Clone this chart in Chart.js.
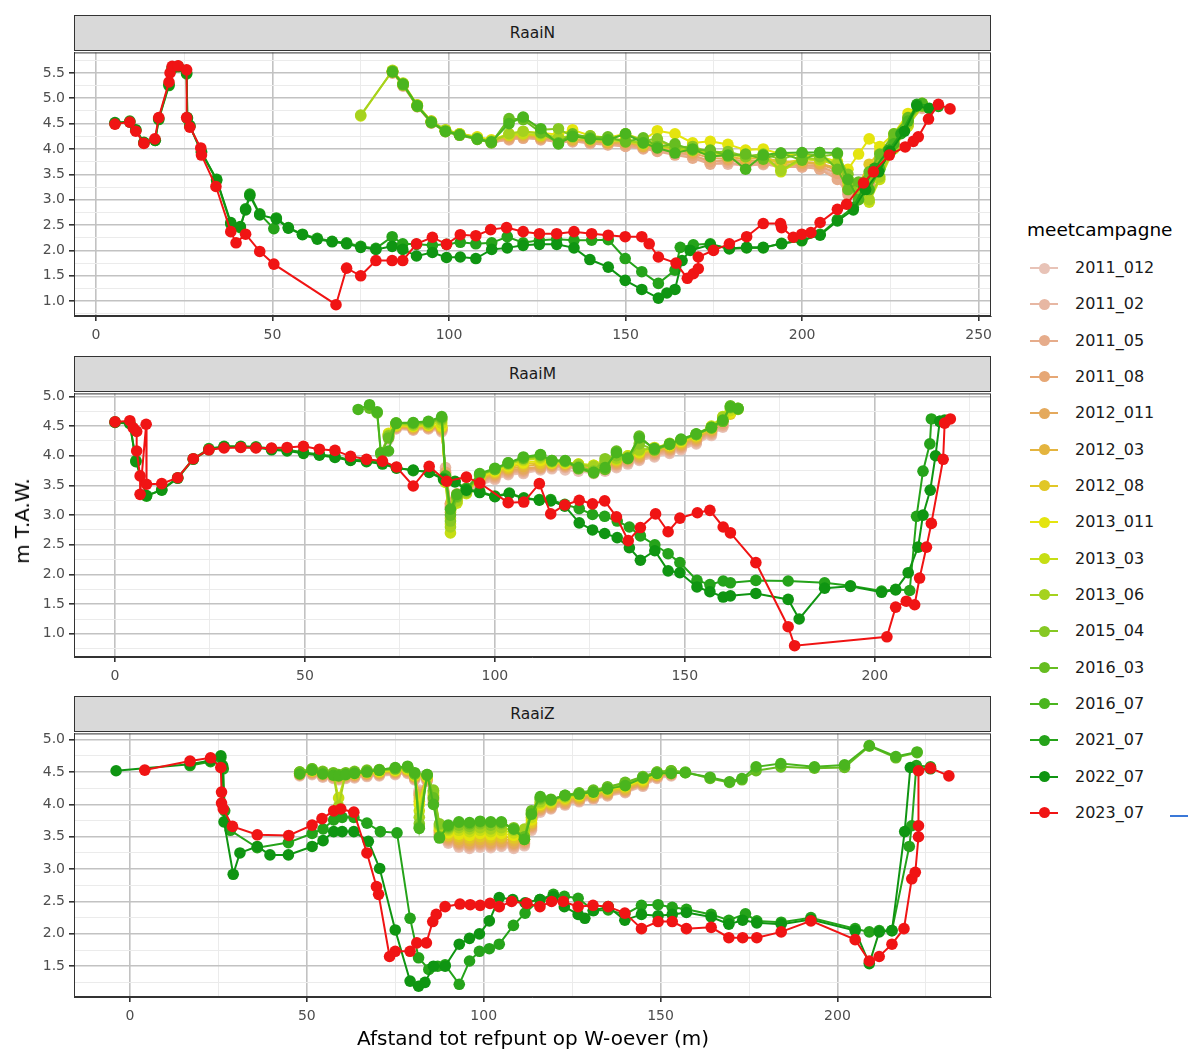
<!DOCTYPE html>
<html>
<head>
<meta charset="utf-8">
<script src="https://cdn.jsdelivr.net/npm/chart.js@4.4.1/dist/chart.umd.min.js"></script>
<style>
  html,body{margin:0;padding:0;background:#fff;}
  body{width:1188px;height:1049px;overflow:hidden;position:relative;font-family:"DejaVu Sans","Liberation Sans",Arial,sans-serif;}
  .strip{position:absolute;left:74px;width:917px;height:36px;background:#d9d9d9;border:1px solid #333;box-sizing:border-box;text-align:center;line-height:34px;font-size:15.5px;color:#1a1a1a;}
  canvas{position:absolute;left:0;}
  .ytitle{position:absolute;left:22px;top:521px;transform:translate(-50%,-50%) rotate(-90deg);font-size:20px;color:#000;white-space:nowrap;}
  .xtitle{position:absolute;left:533px;top:1038px;transform:translate(-50%,-50%);font-size:20px;color:#000;white-space:nowrap;}
  .ltitle{position:absolute;left:1027px;top:229px;transform:translateY(-50%);font-size:18.5px;color:#000;white-space:nowrap;}
  .litem{position:absolute;left:1030px;height:20px;width:150px;}
  .litem .ln{position:absolute;left:0;top:9px;width:28px;height:2px;}
  .litem .dt{position:absolute;left:8.5px;top:4.5px;width:11px;height:11px;border-radius:50%;}
  .litem .tx{position:absolute;left:45px;top:0;line-height:20px;font-size:16px;color:#1a1a1a;white-space:nowrap;}
</style>
</head>
<body>
<div class="strip" style="top:15px">RaaiN</div>
<div class="strip" style="top:356px">RaaiM</div>
<div class="strip" style="top:696px">RaaiZ</div>
<canvas id="cN" width="1000" height="316" style="top:40px"></canvas>
<canvas id="cM" width="1000" height="316" style="top:381px"></canvas>
<canvas id="cZ" width="1000" height="316" style="top:721px"></canvas>
<div class="ytitle">m T.A.W.</div>
<div class="xtitle">Afstand tot refpunt op W-oever (m)</div>
<div class="ltitle">meetcampagne</div>
<div id="legend"></div>
<div style="position:absolute;left:1170px;top:815px;width:18px;height:1.5px;background:#3a78d8"></div>
<script>
// ---------- series ----------
const seriesNames = ['2011_012','2011_02','2011_05','2011_08','2012_011','2012_03','2012_08','2013_011','2013_03','2013_06','2015_04','2016_03','2016_07','2021_07','2022_07','2023_07'];
const seriesColors = ['#E8C3B7','#E7B7A3','#E6AC8B','#E6A775','#E4A95C','#E4B43E','#E1C726','#E4E40E','#C6DE14','#A5D21E','#86C823','#66BD20','#4AB51E','#25A31A','#0F9512','#F01414'];

// ---------- tick labels ----------
const N_xTicks = [0,50,100,150,200,250];
const N_yTicks = [1.0,1.5,2.0,2.5,3.0,3.5,4.0,4.5,5.0,5.5];
const M_xTicks = [0,50,100,150,200];
const M_yTicks = [1.0,1.5,2.0,2.5,3.0,3.5,4.0,4.5,5.0];
const Z_xTicks = [0,50,100,150,200];
const Z_yTicks = [1.5,2.0,2.5,3.0,3.5,4.0,4.5,5.0];

// ---------- RaaiN ----------
const N_oldX = [75,84,87,91,95,99,103,108,112,117,121,126,131,135,140,145,150,155,159,164,169,174,179,184,189,194,200,205,210,213,216,219,222,226,230,234];
const N_2011_012 = [null,5.50,5.25,4.83,4.52,4.36,4.27,4.19,4.13,4.18,4.22,4.20,4.14,4.16,4.12,4.10,4.08,4.02,3.98,3.92,3.86,3.78,3.72,3.70,3.69,3.68,3.66,3.64,3.50,3.20,3.02,3.30,3.72,4.12,4.52,4.82];
const N_2011_02  = [null,5.51,5.24,4.84,4.51,4.35,4.28,4.20,4.12,4.20,4.24,4.18,4.15,4.14,4.13,4.09,4.06,4.00,3.96,3.90,3.84,3.72,3.70,3.68,3.70,3.66,3.64,3.62,3.45,3.15,3.00,3.28,3.70,4.10,4.50,4.80];
const N_2011_05  = [null,5.52,5.26,4.85,4.53,4.34,4.27,4.21,4.13,4.19,4.21,4.19,4.13,4.15,4.11,4.08,4.05,4.01,3.95,3.88,3.82,3.70,3.74,3.66,3.71,3.64,3.65,3.60,3.40,3.10,3.05,3.25,3.68,4.08,4.48,4.83];
const N_2011_08  = [null,5.50,5.27,4.86,4.54,4.36,4.29,4.22,4.15,4.21,4.23,4.21,4.16,4.17,4.14,4.11,4.09,4.03,3.99,3.93,3.88,3.75,3.78,3.72,3.74,3.70,3.68,3.66,3.52,3.18,3.04,3.32,3.74,4.14,4.54,4.86];
const N_2012_011 = [null,5.52,5.28,4.84,4.55,4.37,4.30,4.23,4.16,4.24,4.26,4.22,4.18,4.19,4.16,4.13,4.12,4.06,4.02,3.97,3.92,3.82,3.80,3.76,3.78,3.74,3.72,3.70,3.58,3.22,3.08,3.36,3.78,4.18,4.56,4.88];
const N_2012_03  = [null,5.51,5.26,4.85,4.52,4.36,4.28,4.21,4.15,4.26,4.28,4.24,4.20,4.18,4.17,4.12,4.14,4.05,4.08,3.98,3.95,3.88,3.84,3.80,3.82,3.76,3.75,3.72,3.62,3.28,3.12,3.45,3.82,4.20,4.58,4.87];
const N_2012_08  = [null,5.53,5.27,4.86,4.53,4.37,4.29,4.22,4.16,4.27,4.30,4.26,4.22,4.25,4.20,4.16,4.20,4.10,4.15,4.06,4.00,3.96,3.92,3.84,3.86,3.70,3.80,3.78,3.68,3.40,3.30,3.70,3.95,4.25,4.62,4.88];
const N_2013_011 = [null,5.53,5.28,4.86,4.54,4.37,4.30,4.24,4.18,4.30,4.34,4.32,4.28,4.38,4.26,4.22,4.30,4.18,4.36,4.30,4.12,4.15,4.09,3.98,4.00,3.90,3.88,3.85,3.75,3.60,3.90,4.20,4.05,4.30,4.70,4.90];
const N_2013_03  = [4.65,5.55,5.30,4.87,4.55,4.38,4.30,4.22,4.16,4.28,4.30,4.27,4.20,4.24,4.20,4.17,4.15,4.10,4.06,4.00,3.97,3.92,3.88,3.85,3.86,3.55,3.80,3.78,3.70,3.35,3.10,2.95,3.40,4.00,4.45,4.85];
const N_2013_06  = [4.67,5.54,5.29,4.86,4.54,4.37,4.29,4.21,4.15,4.30,4.35,4.30,4.22,4.26,4.22,4.18,4.16,4.12,4.07,4.02,3.99,3.94,3.90,3.86,3.87,3.58,3.82,3.80,3.72,3.40,3.15,3.00,3.45,4.05,4.50,4.86];
const N_2015_04  = [null,5.52,5.26,4.84,4.53,4.35,4.28,4.20,4.13,4.55,4.62,4.38,4.40,4.24,4.26,4.18,4.30,4.16,4.20,4.03,4.05,3.93,3.95,3.85,3.90,3.80,3.92,3.85,3.90,3.50,3.10,3.40,3.80,4.20,4.60,4.88];
const N_2016_03  = [null,5.53,5.27,4.85,4.52,4.34,4.27,4.19,4.12,4.60,4.58,4.32,4.12,4.30,4.22,4.24,4.14,4.22,4.05,4.10,3.98,3.98,3.86,3.90,3.80,3.92,3.78,3.93,3.60,3.20,3.35,3.55,3.90,4.30,4.62,4.85];
const N_2016_07  = [null,5.52,5.28,4.85,4.53,4.35,4.28,4.20,4.14,4.50,4.63,4.40,4.10,4.25,4.20,4.18,4.30,4.12,4.02,3.92,4.00,3.85,3.88,3.60,3.88,3.92,3.93,3.93,3.92,3.40,3.00,3.20,3.60,4.10,4.55,4.90];
const N_2021_07_x = [5.4,9.6,11.3,13.6,16.8,17.8,20.7,21.6,23.3,25.7,25.9,26.6,29.9,34.2,38.2,40.9,42.4,43.6,46.4,50.4,51.1,54.5,58.5,62.7,66.9,71.0,75.0,79.3,83.9,86.9,90.8,95.3,99.3,103.2,107.6,112.1,116.5,121.0,125.6,130.5,135.4,140.4,145.1,149.9,154.6,159.3,164.0,165.5,169.2,174.0,179.4,184.3,189.0,194.2,199.9,205.1,210.0,214.5,217.5,220.5,224.6,228.0,232.5,238.6];
const N_2021_07_y = [4.50,4.55,4.37,4.12,4.17,4.58,5.25,5.58,5.62,5.48,4.60,4.45,3.95,3.38,2.52,2.45,2.82,3.11,2.72,2.43,2.64,2.45,2.32,2.24,2.18,2.15,2.08,2.04,2.27,2.13,2.12,2.10,2.12,2.16,2.13,2.15,2.27,2.15,2.20,2.22,2.20,2.20,2.21,1.84,1.58,1.35,1.61,2.06,2.11,2.13,2.03,2.05,2.05,2.14,2.19,2.32,2.61,2.85,3.25,3.62,3.98,4.30,4.88,4.84];
const N_2022_07_x = [5.4,9.6,11.3,13.6,16.8,17.8,20.7,21.6,23.3,25.7,25.9,26.6,29.9,34.2,38.2,40.9,42.4,43.6,46.4,51.1,54.5,58.5,62.7,66.9,71.0,75.0,79.3,83.9,86.9,90.8,95.3,99.3,103.2,107.6,112.1,116.5,121.0,125.6,130.5,135.4,139.9,145.1,149.9,154.6,159.3,161.7,164.0,166.0,168.3,174.0,179.4,184.3,189.0,194.2,199.9,205.1,210.0,214.5,218.0,221.7,225.0,229.0,232.5,236.0];
const N_2022_07_y = [4.52,4.53,4.38,4.13,4.17,4.60,5.27,5.60,5.63,5.50,4.62,4.46,3.93,3.40,2.55,2.47,2.80,3.08,2.70,2.62,2.44,2.31,2.22,2.17,2.13,2.06,2.02,2.08,2.02,1.89,1.96,1.86,1.87,1.84,2.02,2.05,2.10,2.12,2.12,2.05,1.82,1.67,1.41,1.23,1.06,1.16,1.23,1.80,2.00,2.11,2.04,2.06,2.06,2.13,2.20,2.30,2.58,2.80,3.20,3.55,3.95,4.35,4.85,4.80];
const N_2023_07_x = [5.4,9.6,11.3,13.6,16.7,17.8,20.7,21.0,21.6,23.3,25.7,25.7,26.6,29.7,29.9,34.0,38.2,39.7,42.4,46.4,50.4,68.0,71.0,75.0,79.3,83.9,86.9,90.8,95.3,99.3,103.2,107.6,111.8,116.3,121.0,125.6,130.5,135.4,140.4,145.1,149.9,154.6,156.7,159.3,164.3,167.5,169.2,170.6,170.6,174.9,179.4,184.3,189.0,193.9,194.2,197.5,199.9,202.5,205.1,210.0,212.6,217.4,220.2,224.7,229.2,231.5,232.9,235.8,238.6,241.9];
const N_2023_07_y = [4.49,4.53,4.35,4.11,4.20,4.62,5.32,5.50,5.63,5.64,5.56,4.62,4.43,4.02,3.88,3.26,2.37,2.15,2.32,1.98,1.73,0.93,1.65,1.50,1.80,1.80,1.80,2.13,2.26,2.12,2.31,2.29,2.41,2.45,2.37,2.33,2.33,2.37,2.33,2.30,2.27,2.27,2.13,1.87,1.75,1.45,1.54,1.64,1.87,2.00,2.13,2.27,2.53,2.53,2.45,2.26,2.32,2.35,2.55,2.81,2.91,3.33,3.55,3.88,4.04,4.15,4.24,4.59,4.88,4.79];

// ---------- RaaiM ----------
const M_oldX = [64,67,69,70,72,74,78.5,82.5,86,87,88.3,90,92.5,96,100,103.5,107.5,112,115,118.5,122,126,129,132,135,138,142,146,149,153,157,160,162,164];
const M_2011_012 = [null,null,null,null,4.28,4.45,4.43,4.45,4.40,3.75,3.12,3.28,3.38,3.50,3.60,3.68,3.70,3.76,3.78,3.76,3.74,3.70,3.74,3.80,3.86,3.92,3.98,4.04,4.10,4.20,4.34,4.48];
const M_2011_02  = [null,null,null,null,4.30,4.46,4.44,4.46,4.42,3.80,3.15,3.30,3.40,3.52,3.62,3.70,3.72,3.78,3.80,3.80,3.78,3.72,3.76,3.82,3.88,3.94,4.00,4.06,4.12,4.22,4.36,4.50];
const M_2011_05  = [null,null,null,null,4.31,4.47,4.45,4.47,4.43,3.70,3.13,3.32,3.42,3.54,3.64,3.72,3.74,3.79,3.82,3.81,3.79,3.75,3.78,3.84,3.90,3.95,4.02,4.08,4.14,4.24,4.38,4.52];
const M_2011_08  = [null,null,null,null,4.33,4.48,4.45,4.48,4.44,3.72,3.18,3.34,3.44,3.56,3.66,3.74,3.76,3.80,3.83,3.83,3.80,3.76,3.80,3.86,3.92,3.97,4.04,4.10,4.16,4.26,4.40,4.55];
const M_2012_011 = [null,null,null,null,4.34,4.49,4.46,4.49,4.45,3.68,3.20,3.36,3.46,3.58,3.68,3.76,3.78,3.82,3.84,3.84,3.82,3.78,3.82,3.88,3.94,3.99,4.06,4.12,4.18,4.28,4.42,4.58];
const M_2012_03  = [null,null,null,null,4.35,4.50,4.48,4.50,4.47,3.66,3.05,3.30,3.42,3.60,3.70,3.78,3.82,3.86,3.86,3.86,3.84,3.80,3.84,3.90,3.96,4.02,4.08,4.14,4.20,4.30,4.44,4.60];
const M_2012_08  = [null,null,null,null,4.36,4.50,4.49,4.51,4.48,3.62,2.95,3.25,3.40,3.62,3.72,3.80,3.86,3.88,3.88,3.87,3.85,3.82,3.86,3.92,3.98,4.04,4.10,4.16,4.22,4.32,4.46,4.62,4.70];
const M_2013_011 = [null,null,null,null,4.38,4.52,4.50,4.52,4.50,3.60,2.85,3.22,3.38,3.64,3.74,3.83,3.88,3.92,3.88,3.88,3.86,3.84,3.88,3.94,4.00,4.06,4.12,4.18,4.24,4.34,4.48,4.64,4.72];
const M_2013_03  = [null,null,null,null,4.36,4.53,4.51,4.53,4.55,3.55,2.70,3.20,3.36,3.66,3.76,3.85,3.92,3.96,3.89,3.89,3.86,3.84,3.88,3.94,4.00,4.08,4.14,4.20,4.26,4.36,4.50,4.66,4.76];
const M_2013_06  = [null,null,null,null,4.34,4.54,4.52,4.54,4.60,3.58,2.80,3.24,3.38,3.67,3.77,3.86,3.94,3.98,3.90,3.90,3.85,3.82,3.90,3.96,3.98,4.10,4.12,4.21,4.26,4.35,4.48,4.65,4.80,4.78];
const M_2015_04  = [null,null,null,4.05,4.33,4.55,4.54,4.56,4.62,3.62,2.90,3.30,3.40,3.68,3.78,3.87,3.96,4.00,3.92,3.91,3.82,3.74,3.95,4.00,3.96,4.20,4.10,4.19,4.27,4.36,4.47,4.58,4.83,4.80];
const M_2016_03  = [null,4.80,4.72,4.02,4.30,4.55,4.55,4.57,4.64,3.64,3.00,3.32,3.42,3.69,3.77,3.88,3.96,4.01,3.91,3.91,3.78,3.71,3.77,4.08,3.95,4.33,4.10,4.19,4.27,4.36,4.47,4.58,4.84,4.80];
const M_2016_07  = [4.78,4.86,4.74,4.05,4.08,4.55,4.56,4.58,4.66,3.66,3.10,3.35,3.45,3.70,3.79,3.88,3.98,4.02,3.92,3.92,3.80,3.72,3.80,4.05,3.96,4.30,4.12,4.20,4.28,4.37,4.48,4.60,4.82,4.79];
const M_2021_07_x = [0,3.9,5.5,8.3,12.3,16.5,20.6,24.7,28.7,33.1,37.1,41.2,45.3,49.6,53.8,57.9,62.0,66.2,70.4,74.1,78.5,82.7,86.5,89.5,92.5,96.0,100.0,103.8,107.6,111.7,114.7,118.4,122.2,125.7,128.9,132.2,135.4,138.3,142.1,145.6,148.7,153.2,156.6,160.1,162.0,168.7,177.2,186.8,193.6,201.8,205.5,209.2,211.0,212.7,214.5,214.9,217.1,218.4];
const M_2021_07_y = [4.57,4.55,3.92,3.32,3.43,3.63,3.95,4.12,4.16,4.16,4.15,4.12,4.10,4.06,4.02,3.99,3.93,3.93,3.88,3.80,3.75,3.73,3.62,3.57,3.44,3.40,3.32,3.37,3.29,3.26,3.26,3.18,3.11,3.01,2.98,2.90,2.80,2.65,2.50,2.35,2.20,1.90,1.83,1.89,1.86,1.90,1.89,1.86,1.81,1.72,1.75,1.73,2.98,3.74,4.20,4.62,4.58,4.60];
const M_2022_07_x = [0,3.9,5.5,8.3,12.3,16.5,20.6,24.7,28.7,33.1,37.1,41.2,45.3,49.6,53.8,57.9,62.0,66.2,70.4,74.1,78.5,82.7,86.5,89.5,92.5,96.0,100.0,103.8,107.6,111.7,114.7,118.4,122.2,125.7,128.9,132.2,135.4,138.3,142.1,145.6,148.7,153.2,156.6,160.1,162.0,168.7,177.2,180.1,186.8,193.6,201.8,205.5,208.8,211.4,212.7,214.6,216.0,217.1,218.4];
const M_2022_07_y = [4.56,4.54,3.90,3.33,3.42,3.62,3.94,4.10,4.15,4.15,4.14,4.10,4.08,4.04,4.01,3.97,3.92,3.90,3.86,3.79,3.76,3.72,3.60,3.56,3.42,3.38,3.31,3.36,3.28,3.25,3.24,3.15,2.87,2.75,2.69,2.62,2.45,2.24,2.40,2.06,2.03,1.79,1.71,1.62,1.64,1.68,1.58,1.25,1.77,1.80,1.70,1.74,2.03,2.46,3.00,3.42,4.00,4.58,4.59];
const M_2023_07_x = [0,3.9,4.8,5.7,5.7,6.6,6.6,8.2,8.3,12.3,16.5,20.6,24.7,28.7,33.1,37.1,41.2,45.3,49.6,53.8,57.9,62.0,66.2,70.4,74.1,78.5,82.7,87.3,92.5,96.0,103.5,107.6,111.7,114.7,118.4,122.2,125.7,128.9,132.0,135.1,138.3,142.3,145.6,148.7,153.3,156.6,160.1,162.0,168.7,177.2,178.9,203.2,205.5,208.3,210.5,211.8,213.6,214.9,218.0,218.4,219.9];
const M_2023_07_y = [4.57,4.59,4.47,4.41,4.08,3.66,3.35,4.53,3.52,3.53,3.63,3.95,4.10,4.13,4.14,4.13,4.13,4.14,4.16,4.11,4.09,3.99,3.94,3.91,3.81,3.49,3.82,3.57,3.64,3.54,3.21,3.22,3.53,3.02,3.17,3.25,3.19,3.24,2.97,2.57,2.79,3.02,2.72,2.95,3.04,3.08,2.80,2.70,2.20,1.12,0.80,0.95,1.45,1.55,1.49,1.94,2.46,2.86,3.94,4.55,4.62];

// ---------- RaaiZ ----------
const Z_oldX = [48,51.5,54.5,57.5,59,61,63.5,67,70.5,75,78.5,80.5,81.8,84,85.8,87.5,90,93,96,99,102,105,108.5,111.5,113.5,116,119,123,127,131,135,140,145,149,153,157,164,169.5,173,177,184,193.5,202,209,216.5,222.5];
const Z_2011_012 = [4.44,4.46,4.42,4.40,4.38,4.40,4.41,4.43,4.44,4.46,4.48,4.38,4.22,4.36,4.02,3.50,3.40,3.34,3.32,3.34,3.33,3.35,3.32,3.36,3.60,3.88,3.93,3.99,4.04,4.08,4.13,4.18,4.28,4.40,4.44];
const Z_2011_02  = [4.45,4.47,4.43,4.41,4.39,4.41,4.42,4.44,4.45,4.47,4.49,4.39,4.20,4.37,4.04,3.52,3.42,3.36,3.34,3.36,3.35,3.37,3.34,3.38,3.62,3.90,3.94,4.00,4.05,4.09,4.14,4.19,4.29,4.41,4.45];
const Z_2011_05  = [4.46,4.48,4.44,4.42,4.40,4.42,4.43,4.45,4.46,4.48,4.50,4.40,4.18,4.38,4.06,3.54,3.44,3.38,3.36,3.38,3.37,3.39,3.36,3.40,3.64,3.91,3.95,4.01,4.06,4.10,4.15,4.20,4.30,4.42,4.46];
const Z_2011_08  = [4.47,4.49,4.45,4.43,4.41,4.43,4.44,4.46,4.47,4.49,4.51,4.41,4.16,4.39,4.08,3.56,3.46,3.40,3.38,3.40,3.39,3.41,3.38,3.42,3.66,3.92,3.96,4.02,4.07,4.11,4.16,4.21,4.31,4.43,4.47];
const Z_2012_011 = [4.46,4.50,4.46,4.44,4.42,4.44,4.45,4.47,4.48,4.50,4.52,4.42,4.14,4.40,4.10,3.58,3.48,3.42,3.40,3.42,3.41,3.43,3.40,3.44,3.68,3.94,3.98,4.04,4.08,4.12,4.17,4.22,4.32,4.44,4.47];
const Z_2012_03  = [4.47,4.51,4.47,4.45,4.43,4.45,4.46,4.48,4.49,4.51,4.53,4.43,4.10,4.41,4.12,3.60,3.50,3.46,3.44,3.46,3.45,3.47,3.44,3.46,3.70,3.96,4.00,4.06,4.10,4.14,4.19,4.24,4.34,4.45,4.48];
const Z_2012_08  = [4.48,4.52,4.48,4.46,4.44,4.46,4.47,4.49,4.50,4.52,4.54,4.44,4.05,4.42,4.14,3.62,3.52,3.50,3.48,3.50,3.49,3.50,3.48,3.50,3.72,3.98,4.02,4.08,4.12,4.16,4.21,4.26,4.36,4.46,4.49];
const Z_2013_011 = [4.48,4.52,4.48,4.46,4.45,4.47,4.48,4.50,4.51,4.53,4.55,4.45,4.00,4.43,4.16,3.64,3.56,3.54,3.52,3.55,3.53,3.55,3.52,3.54,3.76,4.00,4.04,4.10,4.14,4.18,4.23,4.28,4.38,4.47,4.50];
const Z_2013_03  = [4.49,4.53,4.49,4.47,4.10,4.47,4.49,4.51,4.52,4.54,4.56,4.46,3.90,4.44,4.18,3.66,3.60,3.60,3.58,3.60,3.58,3.60,3.56,3.58,3.80,4.02,4.05,4.11,4.15,4.19,4.24,4.30,4.40,4.48,4.50];
const Z_2013_06  = [4.50,4.54,4.50,4.48,3.97,4.48,4.50,4.52,4.53,4.55,4.57,4.47,3.80,4.45,4.20,3.68,3.62,3.64,3.62,3.64,3.62,3.64,3.60,3.62,3.84,4.04,4.06,4.12,4.16,4.20,4.25,4.31,4.41,4.49,4.51];
const Z_2015_04  = [4.50,4.55,4.51,4.49,4.45,4.49,4.51,4.53,4.54,4.56,4.58,4.48,3.70,4.46,4.22,3.70,3.64,3.68,3.66,3.70,3.68,3.70,3.64,3.46,3.87,4.08,4.07,4.13,4.17,4.21,4.26,4.33,4.42,4.50,4.52,4.49];
const Z_2016_03  = [4.50,4.55,4.50,4.48,4.46,4.48,4.50,4.52,4.53,4.55,4.57,4.47,3.65,4.45,4.10,3.50,3.66,3.72,3.70,3.73,3.72,3.72,3.62,3.50,3.90,4.10,4.08,4.14,4.18,4.22,4.27,4.34,4.43,4.50,4.52,4.50,4.40,4.34,4.38,4.52,4.58,4.56,4.57,4.90,4.72,4.80];
const Z_2016_07  = [4.47,4.53,4.47,4.45,4.44,4.46,4.48,4.50,4.53,4.57,4.59,4.49,3.63,4.46,4.00,3.48,3.68,3.73,3.72,3.74,3.73,3.73,3.62,3.46,3.85,4.12,4.07,4.14,4.16,4.19,4.24,4.29,4.41,4.48,4.48,4.49,4.42,4.35,4.40,4.58,4.63,4.58,4.61,4.91,4.74,4.81];
const Z_2021_07_x = [17.0,22.8,25.7,26.4,26.8,28.4,36.0,44.8,51.5,54.6,57.6,60.0,63.3,67.0,70.8,75.5,79.2,81.6,84.5,87.0,89.1,93.1,96.0,98.8,101.6,104.4,108.4,111.7,115.9,119.7,122.8,126.7,131.0,135.2,139.9,144.6,149.3,153.3,157.3,164.3,169.3,174.0,177.2,184.1,192.5,205.0,209.0,211.8,215.4,220.3,221.0,222.3,226.3];
const Z_2021_07_y = [4.60,4.66,4.72,4.55,3.90,3.60,3.33,3.41,3.55,3.62,3.76,3.80,3.80,3.71,3.58,3.56,2.24,1.63,1.45,1.50,1.52,1.22,1.58,1.73,1.77,1.84,2.13,2.32,2.53,2.61,2.58,2.55,2.36,2.37,2.30,2.44,2.45,2.41,2.38,2.30,2.21,2.31,2.20,2.18,2.25,2.08,2.03,2.05,2.05,3.35,3.67,4.60,4.58];
const Z_2022_07_x = [-3.9,17.0,22.8,25.7,26.2,26.6,29.2,31.1,36.0,39.6,44.8,51.5,54.6,57.6,60.0,63.3,67.4,70.6,75.0,79.2,81.6,83.4,85.8,89.1,93.1,96.0,98.8,101.6,104.4,108.2,111.7,115.9,119.7,122.8,126.7,128.6,131.0,135.2,139.9,144.6,149.3,153.3,157.3,164.3,169.3,173.2,177.2,184.1,192.5,205.0,209.0,211.8,215.4,219.0,220.6,226.3];
const Z_2022_07_y = [4.52,4.62,4.68,4.75,4.60,3.73,2.92,3.25,3.35,3.22,3.22,3.35,3.44,3.58,3.58,3.58,3.43,3.01,2.06,1.27,1.19,1.25,1.50,1.50,1.84,1.93,2.00,2.20,2.56,2.53,2.48,2.53,2.58,2.42,2.30,2.24,2.36,2.42,2.21,2.30,2.28,2.30,2.33,2.26,2.15,2.21,2.17,2.15,2.22,2.05,1.54,2.03,2.05,3.58,4.57,4.55];
const Z_2023_07_x = [4.2,17.0,22.8,25.7,25.9,25.9,26.4,29.0,36.0,44.9,51.5,54.3,57.6,59.6,63.3,67.0,69.7,70.3,73.4,75.0,79.2,81.1,83.8,85.6,86.6,89.1,93.3,96.2,99.0,101.8,104.4,107.9,112.2,115.9,119.2,122.5,126.7,130.9,135.2,139.9,144.6,149.3,153.3,157.3,164.3,169.3,173.2,177.2,184.1,192.5,205.0,209.0,211.8,215.4,218.8,221.0,222.0,222.9,222.9,222.9,226.3,231.5];
const Z_2023_07_y = [4.53,4.67,4.72,4.57,4.19,4.02,3.93,3.66,3.53,3.52,3.68,3.78,3.90,3.93,3.88,3.25,2.73,2.61,1.65,1.73,1.73,1.86,1.86,2.19,2.30,2.42,2.46,2.45,2.44,2.47,2.42,2.50,2.47,2.42,2.50,2.50,2.42,2.44,2.42,2.32,2.08,2.19,2.19,2.08,2.10,1.94,1.94,1.94,2.03,2.20,1.91,1.58,1.65,1.84,2.08,2.85,2.95,3.50,3.67,4.52,4.56,4.44];

// ---------- assembly ----------
const panels = [
  { id:'cN', xMin:-6.2, xMax:253.5, yMin:0.707, yMax:5.904, xTicks:N_xTicks, yTicks:N_yTicks,
    xs:[N_oldX,N_oldX,N_oldX,N_oldX,N_oldX,N_oldX,N_oldX,N_oldX,N_oldX,N_oldX,N_oldX,N_oldX,N_oldX,N_2021_07_x,N_2022_07_x,N_2023_07_x],
    ys:[N_2011_012,N_2011_02,N_2011_05,N_2011_08,N_2012_011,N_2012_03,N_2012_08,N_2013_011,N_2013_03,N_2013_06,N_2015_04,N_2016_03,N_2016_07,N_2021_07_y,N_2022_07_y,N_2023_07_y] },
  { id:'cM', xMin:-10.8, xMax:230.6, yMin:0.61, yMax:5.05, xTicks:M_xTicks, yTicks:M_yTicks,
    xs:[M_oldX,M_oldX,M_oldX,M_oldX,M_oldX,M_oldX,M_oldX,M_oldX,M_oldX,M_oldX,M_oldX,M_oldX,M_oldX,M_2021_07_x,M_2022_07_x,M_2023_07_x],
    ys:[M_2011_012,M_2011_02,M_2011_05,M_2011_08,M_2012_011,M_2012_03,M_2012_08,M_2013_011,M_2013_03,M_2013_06,M_2015_04,M_2016_03,M_2016_07,M_2021_07_y,M_2022_07_y,M_2023_07_y] },
  { id:'cZ', xMin:-15.8, xMax:243.4, yMin:1.024, yMax:5.097, xTicks:Z_xTicks, yTicks:Z_yTicks,
    xs:[Z_oldX,Z_oldX,Z_oldX,Z_oldX,Z_oldX,Z_oldX,Z_oldX,Z_oldX,Z_oldX,Z_oldX,Z_oldX,Z_oldX,Z_oldX,Z_2021_07_x,Z_2022_07_x,Z_2023_07_x],
    ys:[Z_2011_012,Z_2011_02,Z_2011_05,Z_2011_08,Z_2012_011,Z_2012_03,Z_2012_08,Z_2013_011,Z_2013_03,Z_2013_06,Z_2015_04,Z_2016_03,Z_2016_07,Z_2021_07_y,Z_2022_07_y,Z_2023_07_y] }
];

function isMajor(v, majors){ return majors.some(m => Math.abs(m - v) < 1e-6); }
function tickValues(majors, min, max){
  const step = majors[1] - majors[0];
  const vals = [];
  for (let v = majors[0] - step; v <= majors[majors.length-1] + step + 1e-9; v += step/2) {
    const r = Math.round(v*1000)/1000;
    if (r >= min && r <= max) vals.push(r);
  }
  return vals;
}

const framePlugin = {
  id:'frame',
  afterDraw(chart){
    const {ctx, chartArea:a} = chart;
    ctx.save();
    ctx.strokeStyle = '#333';
    ctx.lineWidth = 1;
    ctx.strokeRect(a.left+0.5, a.top+0.5, a.right-a.left-1, a.bottom-a.top-1);
    ctx.restore();
  }
};

const tickFont = {family:'"DejaVu Sans", "Liberation Sans", Arial, sans-serif', size:14};

panels.forEach(p => {
  const datasets = seriesNames.map((name, i) => {
    const xs = p.xs[i], ys = p.ys[i];
    const pts = [];
    for (let k = 0; k < ys.length; k++) if (ys[k] !== null) pts.push({x: xs[k], y: ys[k]});
    return {
      label: name, data: pts,
      borderColor: seriesColors[i], backgroundColor: seriesColors[i],
      pointBackgroundColor: seriesColors[i], pointBorderColor: seriesColors[i],
      pointBorderWidth: 0, pointRadius: 5.8, borderWidth: 2,
      showLine: true, tension: 0, order: seriesNames.length - i
    };
  });
  const scaleOpts = (majors, min, max, isX) => ({
    type:'linear', min:min, max:max,
    afterBuildTicks: s => { s.ticks = tickValues(majors, min, max).map(v => ({value:v})); },
    afterFit: s => { if (isX) s.height = 40; else s.width = 74; },
    ticks:{
      autoSkip:false, maxRotation:0, minRotation:0, padding: isX ? 6 : 4,
      color:'#4d4d4d', font:tickFont,
      callback: v => isMajor(v, majors) ? (isX ? String(Math.round(v)) : v.toFixed(1)) : ''
    },
    grid:{
      color: c => (c.tick && isMajor(c.tick.value, majors)) ? '#c2c2c2' : '#ebebeb',
      lineWidth: c => (c.tick && isMajor(c.tick.value, majors)) ? 1.6 : 1,
      tickColor: c => (c.tick && isMajor(c.tick.value, majors)) ? '#333' : 'rgba(0,0,0,0)',
      tickLength: 5, drawTicks:true
    },
    border:{display:true, color:'#333', width:1}
  });
  new Chart(document.getElementById(p.id), {
    type:'scatter',
    data:{datasets},
    options:{
      responsive:false, animation:false, devicePixelRatio:1,
      layout:{padding:{left:0, right:9, top:10, bottom:0}},
      plugins:{legend:{display:false}, tooltip:{enabled:false}},
      scales:{
        x: scaleOpts(p.xTicks, p.xMin, p.xMax, true),
        y: scaleOpts(p.yTicks, p.yMin, p.yMax, false)
      }
    },
    plugins:[framePlugin]
  });
});

// ---------- legend ----------
const legend = document.getElementById('legend');
seriesNames.forEach((name, i) => {
  const cy = 268 + i * 36.33;
  const d = document.createElement('div');
  d.className = 'litem';
  d.style.top = (cy - 10) + 'px';
  d.innerHTML = '<div class="ln" style="background:' + seriesColors[i] + '"></div>' +
                '<div class="dt" style="background:' + seriesColors[i] + '"></div>' +
                '<div class="tx">' + name + '</div>';
  legend.appendChild(d);
});
</script>
</body>
</html>
